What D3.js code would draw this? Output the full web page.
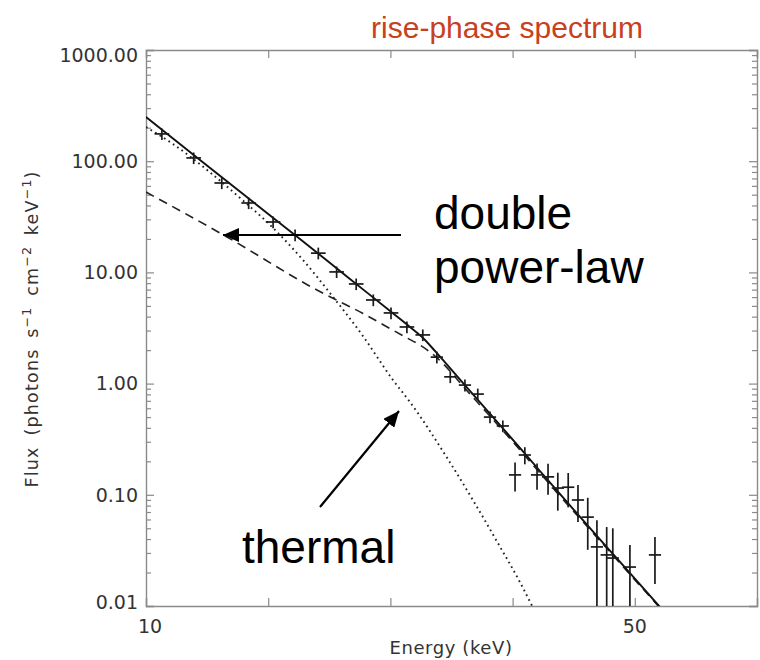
<!DOCTYPE html>
<html>
<head>
<meta charset="utf-8">
<script src="https://cdn.jsdelivr.net/npm/d3@7"></script>
<style>
  html, body { margin: 0; padding: 0; background: #fff; }
  svg { display: block; }
</style>
</head>
<body>
<svg id="chart" width="760" height="660"></svg>
<script>
// ---------------- data ----------------
const titleText = "rise-phase spectrum";
const xTickValues = [10, 20, 30, 40, 50, 60];
const xTickLabels = ["10", "", "", "", "50", ""];
const yTickValues = [0.01, 0.1, 1, 10, 100, 1000];
const yTickLabels = ["0.01", "0.10", "1.00", "10.00", "100.00", "1000.00"];

// observed spectrum (energy keV, flux, half-widths)
const energy = [11.3, 13.9, 16.2, 18.4, 20.4, 22.2, 24.1, 25.6, 27.2, 28.6, 30.05, 31.35, 32.65, 33.8, 34.9, 36.1, 37.15, 38.15, 39.2, 40.2, 41.0, 42.0, 42.9, 43.7, 44.55, 45.35, 46.15, 46.9, 47.7, 48.2, 49.6, 51.65];
const flux   = [176, 107, 63.7, 42.1, 28.4, 21.7, 14.9, 10.1, 7.87, 5.65, 4.32, 3.23, 2.74, 1.73, 1.15, 0.97, 0.805, 0.50, 0.416, 0.151, 0.228, 0.151, 0.145, 0.115, 0.117, 0.0898, 0.063, 0.034, 0.0288, 0.027, 0.0224, 0.0288];
const fluxErr = [21, 12.8, 7.6, 5.0, 3.4, 2.6, 1.8, 1.2, 0.94, 0.68, 0.52, 0.39, 0.33, 0.21, 0.14, 0.12, 0.097, 0.06, 0.05, 0.044, 0.04, 0.04, 0.045, 0.043, 0.04, 0.033, 0.031, 0.025, 0.0225, 0.023, 0.013, 0.013];
const energyErr = [0.6, 0.6, 0.6, 0.6, 0.6, 0.6, 0.6, 0.6, 0.6, 0.6, 0.6, 0.6, 0.6, 0.5, 0.5, 0.5, 0.5, 0.5, 0.5, 0.5, 0.5, 0.5, 0.5, 0.5, 0.5, 0.5, 0.5, 0.5, 0.5, 0.5, 0.5, 0.5];

// total model (solid)
const totalE = [10.0, 14.42, 18.51, 22.60, 26.69, 30.13, 31.60, 32.67, 33.73, 36.51, 38.97, 42.24, 45.52, 48.79, 52.06];
const totalF = [249.7, 102.5, 45.2, 20.0, 8.72, 4.36, 3.23, 2.57, 1.92, 0.858, 0.424, 0.1637, 0.0632, 0.0249, 0.0098];
// double power-law (dashed)
const powerE = [10.0, 16.63, 23.99, 27.76, 31.19, 32.42, 33.65, 36.51, 40.03, 43.88, 47.97, 52.06];
const powerF = [52.8, 20.8, 6.94, 4.27, 2.63, 2.22, 1.77, 0.806, 0.298, 0.0975, 0.0306, 0.0096];
// thermal (dotted)
const thermE = [10.0, 12.2, 15.0, 17.7, 20.4, 22.85, 25.05, 27.75, 30.2, 31.6, 34.65, 36.75, 38.7, 40.6, 41.6];
const thermF = [203, 143, 83.4, 46.7, 25.1, 12.9, 6.53, 2.68, 1.08, 0.683, 0.214, 0.0898, 0.0384, 0.0164, 0.0100];

// ---------------- drawing ----------------
const svg = d3.select("#chart");
const L = 146, R = 757, T = 50, B = 606;
const x = d3.scaleLinear().domain([10, 60]).range([L, R]);
const y = d3.scaleLog().domain([0.01, 1000]).range([B, T]);
const axisColor = "#8a8a8a";
const textColor = "#333";

svg.append("defs").append("clipPath").attr("id", "plotclip")
  .append("rect").attr("x", L).attr("y", T).attr("width", R - L).attr("height", B - T);

// axes with ticks (inward)
const minorY = [];
for (let e = -2; e < 3; e++) for (let m = 2; m <= 9; m++) minorY.push(m * Math.pow(10, e));

svg.append("g").attr("transform", `translate(${L},0)`)
  .call(d3.axisRight(y).tickValues(yTickValues).tickSize(8).tickFormat(""));
svg.append("g").attr("transform", `translate(${L},0)`)
  .call(d3.axisRight(y).tickValues(minorY).tickSize(5).tickFormat("")).select(".domain").remove();
svg.append("g").attr("transform", `translate(${R},0)`)
  .call(d3.axisLeft(y).tickValues(yTickValues).tickSize(8).tickFormat(""));
svg.append("g").attr("transform", `translate(${R},0)`)
  .call(d3.axisLeft(y).tickValues(minorY).tickSize(5).tickFormat("")).select(".domain").remove();
svg.append("g").attr("transform", `translate(0,${B})`)
  .call(d3.axisTop(x).tickValues(xTickValues).tickSize(8).tickFormat(""));
svg.append("g").attr("transform", `translate(0,${T})`)
  .call(d3.axisBottom(x).tickValues(xTickValues).tickSize(8).tickFormat(""));
svg.selectAll(".domain").attr("stroke", axisColor).attr("stroke-width", 1.4);
svg.selectAll(".tick line").attr("stroke", axisColor).attr("stroke-width", 1.2);

// tick labels
const labelFont = "DejaVu Sans, Verdana, sans-serif";
svg.append("g").selectAll("text").data(yTickValues).join("text")
  .attr("x", L - 8)
  .attr("y", (d, i) => y(d) + (i === 0 ? -4 : (i === yTickValues.length - 1 ? 5 : 0)))
  .attr("dy", "0.36em")
  .attr("text-anchor", "end")
  .attr("font-family", labelFont).attr("font-size", 19)
  .attr("fill", textColor)
  .text((d, i) => yTickLabels[i]);
svg.append("g").selectAll("text").data(xTickValues).join("text")
  .attr("x", d => x(d) + (d === 10 ? 4 : 0))
  .attr("y", B + 20)
  .attr("dy", "0.36em")
  .attr("text-anchor", "middle")
  .attr("font-family", labelFont).attr("font-size", 19)
  .attr("fill", textColor)
  .text((d, i) => xTickLabels[i]);

// axis titles
svg.append("text").attr("x", 451).attr("y", 648).attr("dy", "0.36em")
  .attr("text-anchor", "middle").attr("font-family", labelFont).attr("font-size", 18)
  .attr("letter-spacing", 0.6)
  .attr("fill", textColor).text("Energy (keV)");
const yt = svg.append("text").attr("transform", "translate(38,329) rotate(-90)")
  .attr("text-anchor", "middle").attr("font-family", labelFont).attr("font-size", 17.5)
  .attr("letter-spacing", 1.2).attr("word-spacing", 4)
  .attr("fill", textColor);
yt.append("tspan").text("Flux (photons s");
yt.append("tspan").attr("baseline-shift", "super").attr("font-size", 12.5).text("\u22121");
yt.append("tspan").text(" cm");
yt.append("tspan").attr("baseline-shift", "super").attr("font-size", 12.5).text("\u22122");
yt.append("tspan").text(" keV");
yt.append("tspan").attr("baseline-shift", "super").attr("font-size", 12.5).text("\u22121");
yt.append("tspan").text(")");

// model curves
const plot = svg.append("g").attr("clip-path", "url(#plotclip)");
const line = d3.line().x(d => x(d[0])).y(d => y(d[1])).curve(d3.curveMonotoneX);
plot.append("path").datum(d3.zip(thermE, thermF)).attr("d", line)
  .attr("fill", "none").attr("stroke", "#222").attr("stroke-width", 1.9)
  .attr("stroke-dasharray", "1.7,3.6").attr("stroke-linecap", "butt");
plot.append("path").datum(d3.zip(powerE, powerF)).attr("d", line)
  .attr("fill", "none").attr("stroke", "#222").attr("stroke-width", 1.6)
  .attr("stroke-dasharray", "9,6");
plot.append("path").datum(d3.zip(totalE, totalF)).attr("d", line)
  .attr("fill", "none").attr("stroke", "#111").attr("stroke-width", 1.9);

// data crosses with error bars
const pts = energy.map((e, i) => ({ e, f: flux[i], df: fluxErr[i], de: energyErr[i] }));
const gp = plot.append("g").attr("stroke", "#1a1a1a").attr("stroke-width", 1.7);
gp.selectAll("line.v").data(pts).join("line").attr("class", "v")
  .attr("x1", d => x(d.e)).attr("x2", d => x(d.e))
  .attr("y1", d => y(d.f + d.df)).attr("y2", d => y(Math.max(d.f - d.df, 0.005)));
gp.selectAll("line.h").data(pts).join("line").attr("class", "h")
  .attr("x1", d => x(d.e - d.de)).attr("x2", d => x(d.e + d.de))
  .attr("y1", d => y(d.f)).attr("y2", d => y(d.f));

// title
svg.append("text").attr("x", 507).attr("y", 38).attr("text-anchor", "middle")
  .attr("font-family", "Liberation Sans, Arial, sans-serif").attr("font-size", 30)
  .attr("fill", "#c8401c").text(titleText);

// annotations
const annFont = "Liberation Sans, Arial, sans-serif";
svg.append("text").attr("x", 434).attr("y", 229).attr("font-family", annFont)
  .attr("font-size", 46).attr("fill", "#000").text("double");
svg.append("text").attr("x", 434).attr("y", 283).attr("font-family", annFont)
  .attr("font-size", 46).attr("fill", "#000").text("power-law");
svg.append("text").attr("x", 242).attr("y", 563).attr("font-family", annFont)
  .attr("font-size", 46).attr("fill", "#000").text("thermal");

const defs = svg.select("defs");
defs.append("marker").attr("id", "arrow").attr("viewBox", "0 0 16 14")
  .attr("refX", 16).attr("refY", 7).attr("markerWidth", 16).attr("markerHeight", 14)
  .attr("markerUnits", "userSpaceOnUse").attr("orient", "auto")
  .append("path").attr("d", "M0,0 L16,7 L0,14 Z").attr("fill", "#000");
svg.append("line").attr("x1", 401).attr("y1", 235).attr("x2", 223).attr("y2", 235)
  .attr("stroke", "#000").attr("stroke-width", 2.2).attr("marker-end", "url(#arrow)");
svg.append("line").attr("x1", 320).attr("y1", 507).attr("x2", 399).attr("y2", 411)
  .attr("stroke", "#000").attr("stroke-width", 2.2).attr("marker-end", "url(#arrow)");
</script>
</body>
</html>
